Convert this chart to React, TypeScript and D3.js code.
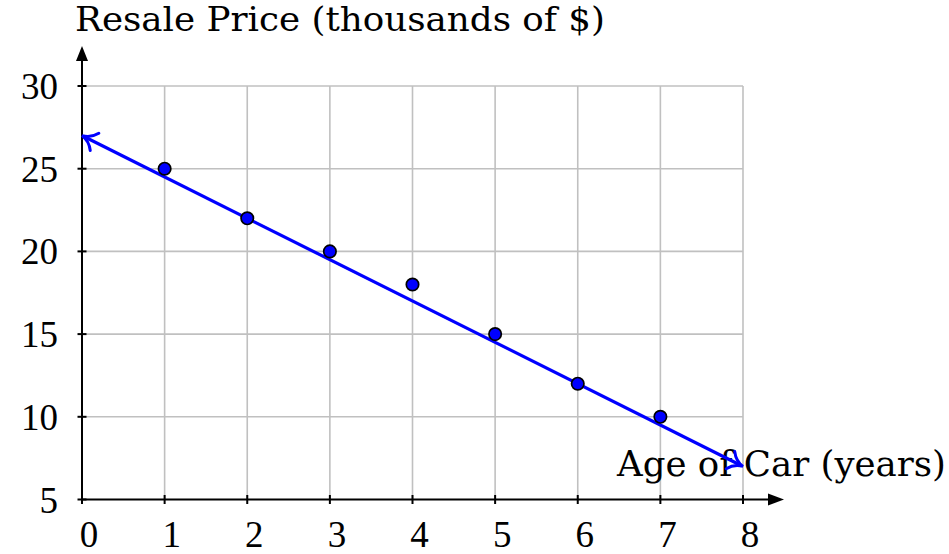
import React from "react";
import * as d3 from "d3";

const ages = [1, 2, 3, 4, 5, 6, 7];
const prices = [25, 22, 20, 18, 15, 12, 10];
const xTicks = [0, 1, 2, 3, 4, 5, 6, 7, 8];
const yTicks = [5, 10, 15, 20, 25, 30];
const fitX = [0, 8];
const fitY = [27, 7];
const yTitle = "Resale Price (thousands of $)";
const xTitle = "Age of Car (years)";

const W = 949;
const H = 554;
const FONT = "'Liberation Serif', 'DejaVu Serif', serif";
const TFONT = "'DejaVu Serif', 'Liberation Serif', serif";

type P = { x: number; y: number };

export default function App() {
  const x = d3.scaleLinear().domain([0, 8]).range([82, 743]);
  const y = d3.scaleLinear().domain([5, 30]).range([499.5, 86]);
  const line = d3
    .line<P>()
    .x((d) => d.x)
    .y((d) => d.y);

  const p0: P = { x: x(fitX[0]), y: y(fitY[0]) };
  const p1: P = { x: x(fitX[1]), y: y(fitY[1]) };
  const arrow = (tip: P, from: P) => {
    const ang = Math.atan2(from.y - tip.y, from.x - tip.x);
    const L = 17;
    const spread = 0.6;
    const b1 = { x: tip.x + L * Math.cos(ang - spread), y: tip.y + L * Math.sin(ang - spread) };
    const b2 = { x: tip.x + L * Math.cos(ang + spread), y: tip.y + L * Math.sin(ang + spread) };
    const c1 = { x: tip.x + 9 * Math.cos(ang - 0.18), y: tip.y + 9 * Math.sin(ang - 0.18) };
    const c2 = { x: tip.x + 9 * Math.cos(ang + 0.18), y: tip.y + 9 * Math.sin(ang + 0.18) };
    return `M${b1.x},${b1.y} Q${c1.x},${c1.y} ${tip.x},${tip.y} Q${c2.x},${c2.y} ${b2.x},${b2.y}`;
  };
  const shorten = (a: P, b: P, d: number): P => {
    const len = Math.hypot(b.x - a.x, b.y - a.y);
    return { x: a.x + ((b.x - a.x) * d) / len, y: a.y + ((b.y - a.y) * d) / len };
  };
  const s0 = shorten(p0, p1, 1.5);
  const s1 = shorten(p1, p0, 1.5);

  const x0 = x(0);
  const yBase = y(5);

  return (
    <svg width={W} height={H} style={{ position: "absolute", left: 0, top: 0, background: "#fff" }}>
      <rect x={0} y={0} width={W} height={H} fill="#fff" />
      {/* grid */}
      <g stroke="#c0c0c0" strokeWidth={1.6}>
        {xTicks
          .filter((t) => t > 0)
          .map((t) => (
            <line key={"gx" + t} x1={x(t)} x2={x(t)} y1={yBase} y2={y(30)} />
          ))}
        {yTicks
          .filter((t) => t > 5)
          .map((t) => (
            <line key={"gy" + t} x1={x0} x2={x(8)} y1={y(t)} y2={y(t)} />
          ))}
      </g>
      {/* axes */}
      <g stroke="#000" strokeWidth={2}>
        <line x1={x0} x2={x0} y1={yBase + 1} y2={60} />
        <line x1={x0 - 1} x2={770} y1={yBase} y2={yBase} />
        {xTicks.map((t) => (
          <line key={"tx" + t} x1={x(t)} x2={x(t)} y1={yBase - 4.5} y2={yBase + 4.5} />
        ))}
        {yTicks.map((t) => (
          <line key={"ty" + t} x1={x0 - 4.5} x2={x0 + 4.5} y1={y(t)} y2={y(t)} />
        ))}
      </g>
      <path d={`M${x0},46 L${x0 - 6},61 L${x0 + 6},61 Z`} fill="#000" />
      <path d={`M784,${yBase} L768,${yBase - 6} L768,${yBase + 6} Z`} fill="#000" />
      {/* tick labels */}
      <g fontFamily={FONT} fontSize={37} fill="#000">
        {xTicks.map((t) => (
          <text key={"lx" + t} x={x(t) + 7} y={547} textAnchor="middle">
            {t}
          </text>
        ))}
        {yTicks.map((t) => (
          <text key={"ly" + t} x={58} y={y(t) + 13} textAnchor="end">
            {t}
          </text>
        ))}
      </g>
      {/* titles */}
      <text x={75} y={31} fontFamily={TFONT} fontSize={33} fill="#000" textLength={530} lengthAdjust="spacingAndGlyphs">
        {yTitle}
      </text>
      <text x={617} y={476} fontFamily={TFONT} fontSize={36} fill="#000" textLength={329} lengthAdjust="spacingAndGlyphs">
        {xTitle}
      </text>
      {/* fit line */}
      <path d={line([s0, s1]) || ""} stroke="#0000ff" strokeWidth={3.2} fill="none" />
      <path d={arrow(p0, p1)} stroke="#0000ff" strokeWidth={3} fill="none" strokeLinecap="round" />
      <path d={arrow(p1, p0)} stroke="#0000ff" strokeWidth={3} fill="none" strokeLinecap="round" />
      {/* points */}
      {ages.map((a, i) => (
        <circle key={"p" + i} cx={x(a)} cy={y(prices[i])} r={6.2} fill="#0000ff" stroke="#000" strokeWidth={1.7} />
      ))}
    </svg>
  );
}
